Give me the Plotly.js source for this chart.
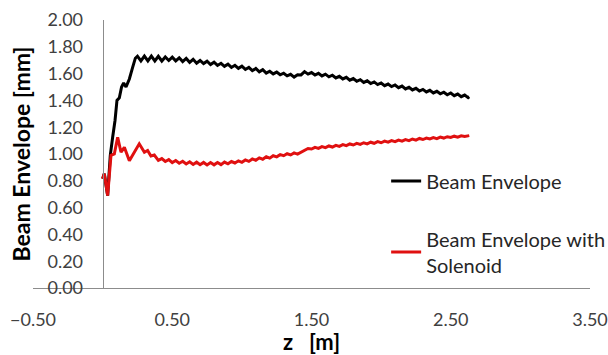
<!DOCTYPE html>
<html>
<head>
<meta charset="utf-8">
<script src="https://cdn.plot.ly/plotly-3.0.1.min.js"></script>
<style>html,body{margin:0;padding:0;background:#fff;}#chart{width:608px;height:355px;}</style>
</head>
<body>
<div id="chart"></div>
<script>
// z positions [m] and beam envelope [mm]
var zBeam = [0, 0.012, 0.036, 0.055, 0.072, 0.089, 0.103, 0.120, 0.136, 0.151, 0.168, 0.192, 0.215, 0.235,
  0.250, 0.275, 0.300, 0.325, 0.350, 0.375, 0.400, 0.425, 0.450, 0.475, 0.500, 0.525, 0.550, 0.575, 0.600,
  0.625, 0.650, 0.675, 0.700, 0.725, 0.750, 0.775, 0.800, 0.825, 0.850, 0.875, 0.900, 0.925, 0.950, 0.975,
  1.000, 1.025, 1.050, 1.075, 1.100, 1.125, 1.150, 1.175, 1.200, 1.225, 1.250, 1.275, 1.300, 1.325, 1.350,
  1.375, 1.400, 1.425, 1.450, 1.475, 1.500, 1.525, 1.550, 1.575, 1.600, 1.625, 1.650, 1.675, 1.700, 1.725,
  1.750, 1.775, 1.800, 1.825, 1.850, 1.875, 1.900, 1.925, 1.950, 1.975, 2.000, 2.025, 2.050, 2.075, 2.100,
  2.125, 2.150, 2.175, 2.200, 2.225, 2.250, 2.275, 2.300, 2.325, 2.350, 2.375, 2.400, 2.425, 2.450, 2.475,
  2.500, 2.525, 2.550, 2.575, 2.600, 2.625, 2.633];
var envBeam = [0.815, 0.853, 0.690, 0.990, 1.125, 1.250, 1.400, 1.420, 1.500, 1.530, 1.500, 1.560, 1.645, 1.715,
  1.730, 1.694, 1.730, 1.694, 1.730, 1.694, 1.729, 1.694, 1.724, 1.698, 1.723, 1.695, 1.718, 1.690, 1.713,
  1.684, 1.707, 1.678, 1.698, 1.675, 1.692, 1.668, 1.685, 1.661, 1.677, 1.654, 1.670, 1.646, 1.662, 1.639,
  1.655, 1.631, 1.646, 1.622, 1.638, 1.613, 1.629, 1.604, 1.618, 1.598, 1.611, 1.591, 1.603, 1.583, 1.595,
  1.574, 1.592, 1.590, 1.615, 1.596, 1.608, 1.589, 1.602, 1.583, 1.596, 1.576, 1.588, 1.568, 1.580, 1.560,
  1.572, 1.551, 1.563, 1.543, 1.555, 1.534, 1.546, 1.526, 1.538, 1.518, 1.530, 1.510, 1.522, 1.503, 1.515,
  1.495, 1.507, 1.486, 1.498, 1.478, 1.490, 1.470, 1.482, 1.463, 1.475, 1.456, 1.468, 1.449, 1.461, 1.442,
  1.455, 1.435, 1.447, 1.428, 1.440, 1.421, 1.427];

var zSol = [0, 0.012, 0.036, 0.060, 0.084, 0.108, 0.132, 0.156, 0.192, 0.263, 0.300, 0.323, 0.347, 0.371, 0.400,
  0.425, 0.450, 0.475, 0.500, 0.525, 0.550, 0.575, 0.600, 0.625, 0.650, 0.675, 0.700, 0.725, 0.750, 0.775,
  0.800, 0.825, 0.850, 0.875, 0.900, 0.925, 0.950, 0.975, 1.000, 1.025, 1.050, 1.075, 1.100, 1.125, 1.150,
  1.175, 1.200, 1.225, 1.250, 1.275, 1.300, 1.325, 1.350, 1.375, 1.400, 1.425, 1.450, 1.475, 1.500, 1.525,
  1.550, 1.575, 1.600, 1.625, 1.650, 1.675, 1.700, 1.725, 1.750, 1.775, 1.800, 1.825, 1.850, 1.875, 1.900,
  1.925, 1.950, 1.975, 2.000, 2.025, 2.050, 2.075, 2.100, 2.125, 2.150, 2.175, 2.200, 2.225, 2.250, 2.275,
  2.300, 2.325, 2.350, 2.375, 2.400, 2.425, 2.450, 2.475, 2.500, 2.525, 2.550, 2.575, 2.600, 2.625, 2.633];
var envSol = [0.815, 0.853, 0.690, 0.990, 1.000, 1.125, 1.013, 1.050, 0.950, 1.076, 1.013, 1.026, 0.985, 0.992, 0.952,
  0.966, 0.944, 0.958, 0.936, 0.951, 0.931, 0.946, 0.926, 0.942, 0.922, 0.939, 0.920, 0.937, 0.918, 0.936,
  0.919, 0.937, 0.921, 0.940, 0.927, 0.944, 0.933, 0.949, 0.938, 0.956, 0.945, 0.963, 0.953, 0.971, 0.961,
  0.979, 0.969, 0.987, 0.979, 0.995, 0.987, 1.002, 0.993, 1.008, 0.999, 1.015, 1.025, 1.041, 1.037, 1.050,
  1.042, 1.055, 1.047, 1.060, 1.052, 1.065, 1.057, 1.070, 1.062, 1.075, 1.067, 1.079, 1.072, 1.084, 1.076,
  1.088, 1.080, 1.092, 1.084, 1.096, 1.088, 1.100, 1.092, 1.104, 1.096, 1.108, 1.100, 1.112, 1.104, 1.116,
  1.108, 1.119, 1.112, 1.122, 1.115, 1.126, 1.119, 1.129, 1.123, 1.133, 1.126, 1.136, 1.130, 1.139, 1.137];

var seriesNames = ['Beam Envelope', 'Beam Envelope with<br>Solenoid'];
var xTitle = 'z   [m]';
var yTitle = 'Beam Envelope [mm]';

var FONT = 'Lato, "Open Sans", sans-serif';

var traces = [
  {x: zBeam, y: envBeam, type: 'scatter', mode: 'lines', name: seriesNames[0], legendgroup: 'a',
   line: {color: '#000000', width: 3}},
  {x: zSol, y: envSol, type: 'scatter', mode: 'lines', name: seriesNames[1], legendgroup: 'b',
   line: {color: '#e01010', width: 3}}
];

var layout = {
  width: 608, height: 355,
  margin: {l: 33, r: 18, t: 20, b: 67, pad: 0, autoexpand: false},
  paper_bgcolor: '#ffffff', plot_bgcolor: '#ffffff',
  font: {family: FONT, size: 18, color: '#404040'},
  showlegend: true,
  legend: {x: 0.634, y: 0.472, xanchor: 'left', yanchor: 'top', bgcolor: 'rgba(0,0,0,0)',
           font: {family: FONT, size: 20, color: '#262626'}, tracegroupgap: 29, itemwidth: 30},
  xaxis: {range: [-0.5, 3.5], tick0: -0.5, dtick: 1, tickformat: '.2f', showgrid: false, zeroline: false,
          automargin: false,
          showline: true, linecolor: '#8c8c8c', linewidth: 1, ticks: '', ticklabelstandoff: 15,
          tickfont: {family: FONT, size: 18, color: '#404040'},
          title: {text: xTitle, font: {family: FONT, size: 22, color: '#000000', weight: 'bold'}, standoff: 6}},
  yaxis: {range: [0, 2], tick0: 0, dtick: 0.2, tickformat: '.2f', showgrid: false, zeroline: false,
          automargin: false,
          anchor: 'free', position: 0.125, showline: true, linecolor: '#8c8c8c', linewidth: 1, ticks: '',
          ticklabelstandoff: 16, tickfont: {family: FONT, size: 18, color: '#404040'},
          title: {text: yTitle, font: {family: FONT, size: 23, color: '#000000', weight: 'bold'}, standoff: 9}}
};

Plotly.newPlot('chart', traces, layout, {displayModeBar: false, staticPlot: true});
</script>
</body>
</html>
